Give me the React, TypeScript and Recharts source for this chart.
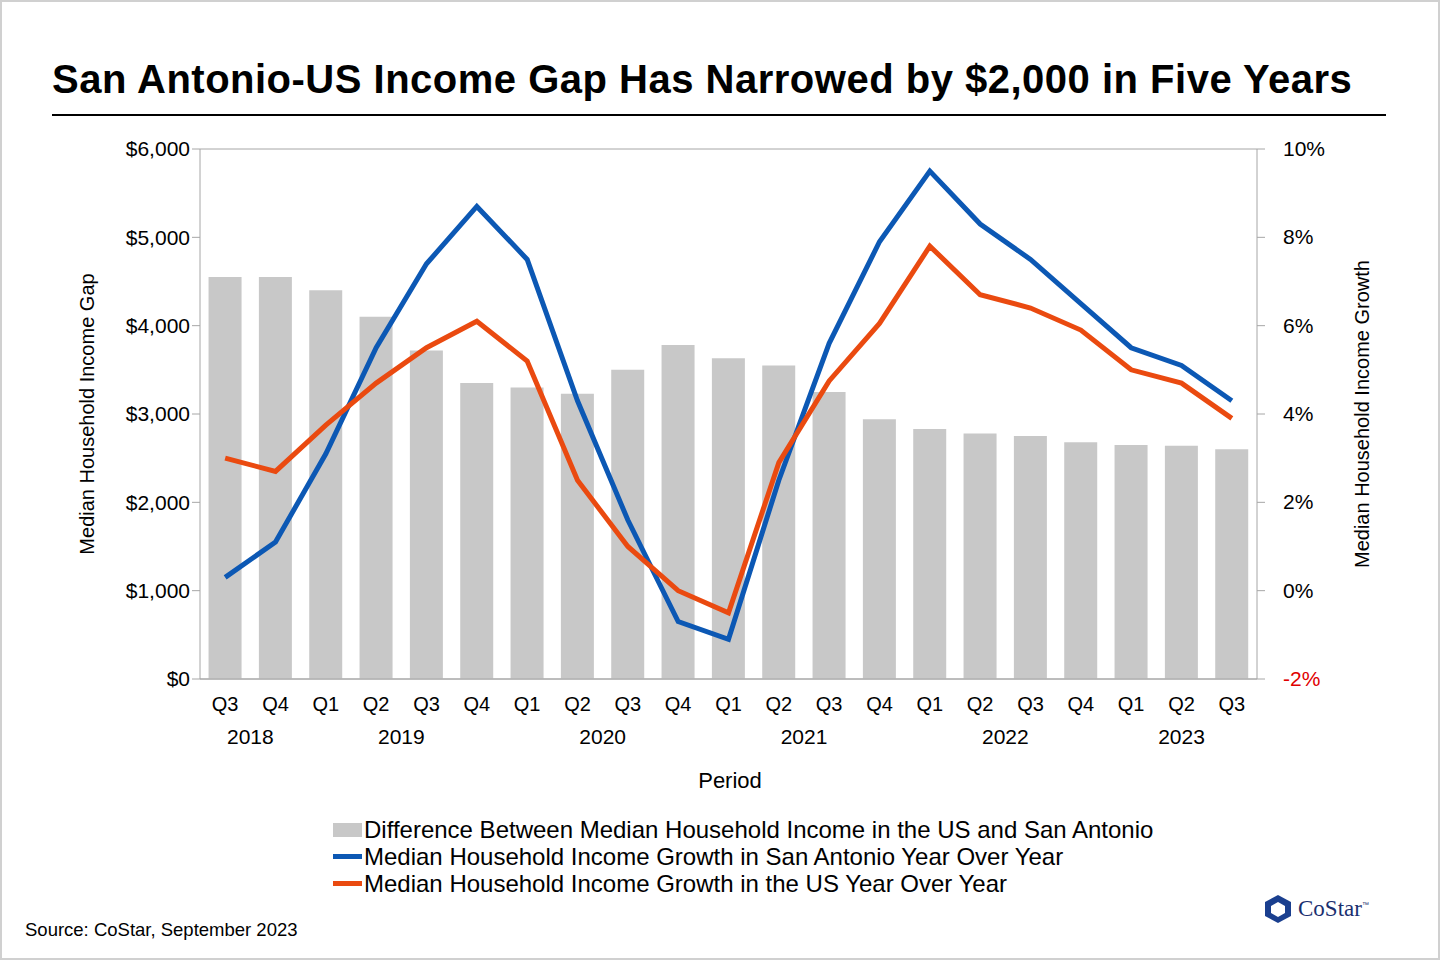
import { ComposedChart, Bar, Line, XAxis, YAxis, CartesianGrid } from 'recharts';

const QUARTERS = ['Q3', 'Q4', 'Q1', 'Q2', 'Q3', 'Q4', 'Q1', 'Q2', 'Q3', 'Q4', 'Q1', 'Q2', 'Q3', 'Q4', 'Q1', 'Q2', 'Q3', 'Q4', 'Q1', 'Q2', 'Q3'];
const YEARS = [
  { label: '2018', start: 0, count: 2 },
  { label: '2019', start: 2, count: 4 },
  { label: '2020', start: 6, count: 4 },
  { label: '2021', start: 10, count: 4 },
  { label: '2022', start: 14, count: 4 },
  { label: '2023', start: 18, count: 3 },
];
const GAP = [4550, 4550, 4400, 4100, 3720, 3350, 3300, 3230, 3500, 3780, 3630, 3550, 3250, 2940, 2830, 2780, 2750, 2680, 2650, 2640, 2600];
const SA_GROWTH = [0.3, 1.1, 3.1, 5.5, 7.4, 8.7, 7.5, 4.3, 1.6, -0.7, -1.1, 2.5, 5.6, 7.9, 9.5, 8.3, 7.5, 6.5, 5.5, 5.1, 4.3];
const US_GROWTH = [3.0, 2.7, 3.75, 4.7, 5.5, 6.1, 5.2, 2.5, 1.0, 0.0, -0.5, 2.9, 4.75, 6.05, 7.8, 6.7, 6.4, 5.9, 5.0, 4.7, 3.9];
const LEFT_TICKS = [0, 1000, 2000, 3000, 4000, 5000, 6000];
const RIGHT_TICKS = [-2, 0, 2, 4, 6, 8, 10];

const data = QUARTERS.map((q, i) => ({ q, idx: i, gap: GAP[i], sa: SA_GROWTH[i], us: US_GROWTH[i] }));

const FONT = '"Liberation Sans", Arial, sans-serif';
const BAND = (1257 - 200) / QUARTERS.length;

const QuarterTick = ({ x, y, payload }: any) => {
  const i = payload.index;
  const yr = YEARS.find((g) => g.start === i);
  return (
    <g>
      <text x={x} y={y + 24} textAnchor="middle" fontSize={20} fill="#000" fontFamily={FONT}>{payload.value}</text>
      {yr && (
        <text x={x + ((yr.count - 1) * BAND) / 2} y={y + 57} textAnchor="middle" fontSize={21} fill="#000" fontFamily={FONT}>{yr.label}</text>
      )}
    </g>
  );
};

const RightTick = ({ x, y, payload }: any) => (
  <text x={x + 16} y={y + 7} fontSize={21} fill={payload.value < 0 ? '#e00000' : '#000'} fontFamily={FONT}>{payload.value}%</text>
);

const LegendRow = ({ color, bar, label }: { color: string; bar?: boolean; label: string }) => (
  <div style={{ display: 'flex', alignItems: 'center', height: 27 }}>
    <span style={{ display: 'inline-block', width: 29, height: bar ? 14 : 5, background: color, marginRight: 2 }} />
    <span>{label}</span>
  </div>
);

export default function App() {
  return (
    <div style={{ position: 'absolute', left: 0, top: 0, width: 1440, height: 960, background: '#fff', fontFamily: FONT, overflow: 'hidden' }}>
      <div style={{ position: 'absolute', inset: 0, border: '2px solid #d0d0d0', boxSizing: 'border-box' }} />
      <div style={{ position: 'absolute', left: 52, top: 57, fontSize: 40, fontWeight: 'bold', letterSpacing: 0.5, whiteSpace: 'nowrap' }}>
        San Antonio-US Income Gap Has Narrowed by $2,000 in Five Years
      </div>
      <div style={{ position: 'absolute', left: 52, top: 114, width: 1334, height: 2, background: '#000' }} />
      <ComposedChart width={1440} height={960} data={data} margin={{ top: 149, right: 83, bottom: 181, left: 100 }} barCategoryGap="17%">
        <CartesianGrid vertical={false} stroke="#a6a6a6" />
        <XAxis dataKey="q" tick={<QuarterTick />} tickLine={false} axisLine={{ stroke: '#a6a6a6' }} interval={0} height={100} />
        <YAxis yAxisId="l" domain={[0, 6000]} ticks={LEFT_TICKS} tickFormatter={(v) => `$${v.toLocaleString('en-US')}`}
          tick={{ fontSize: 21, fill: '#000', fontFamily: FONT }} stroke="#a6a6a6" tickSize={8} width={100} />
        <YAxis yAxisId="r" orientation="right" domain={[-2, 10]} ticks={RIGHT_TICKS} tick={<RightTick />}
          stroke="#a6a6a6" tickSize={8} width={100} />
        <Bar yAxisId="l" dataKey="gap" fill="#c8c8c8" isAnimationActive={false} />
        <Line yAxisId="r" dataKey="sa" stroke="#0c58b4" strokeWidth={5} dot={false} type="linear" isAnimationActive={false} />
        <Line yAxisId="r" dataKey="us" stroke="#ea4a10" strokeWidth={5} dot={false} type="linear" isAnimationActive={false} />
      </ComposedChart>
      <div style={{ position: 'absolute', left: 87, top: 414, transform: 'translate(-50%,-50%) rotate(-90deg)', fontSize: 20, whiteSpace: 'nowrap' }}>
        Median Household Income Gap
      </div>
      <div style={{ position: 'absolute', left: 1362, top: 414, transform: 'translate(-50%,-50%) rotate(-90deg)', fontSize: 20, whiteSpace: 'nowrap' }}>
        Median Household Income Growth
      </div>
      <div style={{ position: 'absolute', left: 0, width: 1460, top: 768, textAlign: 'center', fontSize: 22 }}>Period</div>
      <div style={{ position: 'absolute', left: 333, top: 816, fontSize: 24, whiteSpace: 'nowrap' }}>
        <LegendRow color="#c8c8c8" bar label="Difference Between Median Household Income in the US and San Antonio" />
        <LegendRow color="#0c58b4" label="Median Household Income Growth in San Antonio Year Over Year" />
        <LegendRow color="#ea4a10" label="Median Household Income Growth in the US Year Over Year" />
      </div>
      <div style={{ position: 'absolute', left: 25, top: 919, fontSize: 18.5 }}>Source: CoStar, September 2023</div>
      <div style={{ position: 'absolute', left: 1262, top: 893, display: 'flex', alignItems: 'center' }}>
        <svg width={32} height={32} viewBox="0 0 32 32">
          <polygon points="16,2 29,9 29,23 16,30 3,23 3,9" fill="#1a3f8f" />
          <polygon points="16,9 23,13 23,20 16,24 9,20 9,13" fill="#fff" />
        </svg>
        <span style={{ fontFamily: '"Liberation Serif", serif', fontSize: 23, color: '#1a2f6f', marginLeft: 4 }}>CoStar</span>
        <span style={{ fontSize: 7, color: '#1a2f6f', alignSelf: 'flex-start', marginTop: 8 }}>™</span>
      </div>
    </div>
  );
}
